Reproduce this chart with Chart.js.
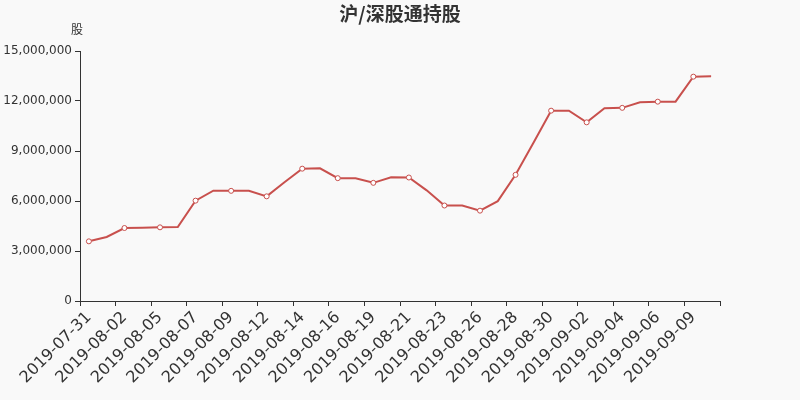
<!DOCTYPE html>
<html>
<head>
<meta charset="utf-8">
<script src="https://cdn.jsdelivr.net/npm/chart.js@4"></script>
<style>
html,body{margin:0;padding:0;background:#f9f9f9;}
#wrap{width:800px;height:400px;position:relative;}
</style>
</head>
<body>
<div id="wrap"><canvas id="c" width="800" height="400"></canvas></div>
<script>
const chartTitle = '沪/深股通持股';
const yAxisName = '股';
const dates = [
  '2019-07-31','2019-08-01','2019-08-02','2019-08-04','2019-08-05','2019-08-06',
  '2019-08-07','2019-08-08','2019-08-09','2019-08-11','2019-08-12','2019-08-13',
  '2019-08-14','2019-08-15','2019-08-16','2019-08-18','2019-08-19','2019-08-20',
  '2019-08-21','2019-08-22','2019-08-23','2019-08-25','2019-08-26','2019-08-27',
  '2019-08-28','2019-08-29','2019-08-30','2019-09-01','2019-09-02','2019-09-03',
  '2019-09-04','2019-09-05','2019-09-06','2019-09-08','2019-09-09','2019-09-10'
];
const holdings = [
  3580000, 3840000, 4380000, 4390000, 4420000, 4440000,
  6020000, 6620000, 6610000, 6610000, 6280000, 7130000,
  7940000, 7960000, 7370000, 7370000, 7090000, 7420000,
  7410000, 6640000, 5730000, 5730000, 5420000, 5990000,
  7570000, 9480000, 11420000, 11420000, 10720000, 11570000,
  11590000, 11920000, 11960000, 11960000, 13460000, 13480000
];
const yTicks = [0, 3000000, 6000000, 9000000, 12000000, 15000000];

const axisColor = '#333333';
const lineColor = '#c8504d';

const textPlugin = {
  id: 'texts',
  afterDraw(chart) {
    const ctx = chart.ctx;
    const a = chart.chartArea;
    ctx.save();
    ctx.fillStyle = axisColor;
    ctx.textAlign = 'center';
    ctx.textBaseline = 'middle';
    ctx.font = 'bold 19px "Noto Sans CJK SC", sans-serif';
    ctx.fillText(chartTitle, chart.width / 2, 14);
    ctx.font = '12px "Noto Sans CJK SC", "DejaVu Sans", sans-serif';
    ctx.fillText(yAxisName, a.left - 3, 29);
    ctx.restore();
  }
};

const bgPlugin = {
  id: 'bg',
  beforeDraw(chart) {
    const ctx = chart.ctx;
    ctx.save();
    ctx.fillStyle = '#f9f9f9';
    ctx.fillRect(0, 0, chart.width, chart.height);
    ctx.restore();
  }
};

const tickColorFn = (ctx) => (ctx.index === undefined || ctx.index % 2 === 0) ? axisColor : 'rgba(0,0,0,0)';

new Chart(document.getElementById('c'), {
  type: 'line',
  data: {
    labels: dates,
    datasets: [{
      label: chartTitle,
      data: holdings,
      borderColor: lineColor,
      borderWidth: 2,
      backgroundColor: '#ffffff',
      pointBackgroundColor: '#ffffff',
      pointBorderColor: lineColor,
      pointBorderWidth: 1,
      pointRadius: (c) => c.dataIndex % 2 === 0 ? 2.5 : 0,
      pointHoverRadius: 3,
      tension: 0,
      fill: false
    }]
  },
  options: {
    responsive: false,
    animation: false,
    devicePixelRatio: 1,
    layout: { padding: { left: 0, right: 80, top: 51, bottom: 0 } },
    plugins: {
      legend: { display: false },
      tooltip: { enabled: false },
      title: { display: false }
    },
    scales: {
      x: {
        type: 'category',
        offset: true,
        afterFit(scale) { scale.height = 99; },
        grid: {
          display: true,
          offset: true,
          drawOnChartArea: false,
          drawTicks: true,
          tickLength: 5,
          color: tickColorFn,
          tickColor: tickColorFn
        },
        border: { display: true, color: axisColor, width: 1 },
        ticks: {
          autoSkip: false,
          maxRotation: 45,
          minRotation: 45,
          padding: 2,
          color: axisColor,
          font: { family: '"DejaVu Sans", sans-serif', size: 16 },
          callback(value, index) { return index % 2 === 0 ? dates[index] : ''; }
        }
      },
      y: {
        min: 0,
        max: 15000000,
        afterFit(scale) { scale.width = 80; },
        afterBuildTicks(scale) { scale.ticks = yTicks.map(v => ({ value: v })); },
        grid: {
          display: true,
          drawOnChartArea: false,
          drawTicks: true,
          tickLength: 5,
          color: axisColor
        },
        border: { display: true, color: axisColor, width: 1 },
        ticks: {
          padding: 3,
          color: axisColor,
          font: { family: '"DejaVu Sans", sans-serif', size: 12 },
          callback(value) { return Number(value).toLocaleString('en-US'); }
        }
      }
    }
  },
  plugins: [bgPlugin, textPlugin]
});
</script>
</body>
</html>
